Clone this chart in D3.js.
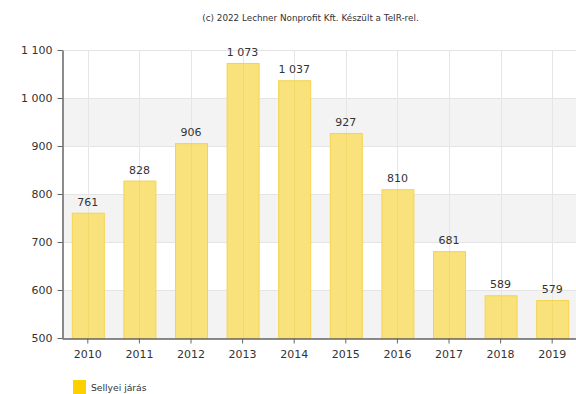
<!DOCTYPE html>
<html>
<head>
<meta charset="utf-8">
<script src="https://cdn.jsdelivr.net/npm/d3@7"></script>
<style>
  html, body { margin: 0; padding: 0; background: #fff; }
  svg { display: block; font-family: "DejaVu Sans", Verdana, sans-serif; }
</style>
</head>
<body>
<svg id="chart" width="576" height="394"></svg>
<script>
// Sellyei járás, yearly values
const years = ["2010", "2011", "2012", "2013", "2014", "2015", "2016", "2017", "2018", "2019"];
const values = [761, 828, 906, 1073, 1037, 927, 810, 681, 589, 579];
const yTicks = [500, 600, 700, 800, 900, 1000, 1100];
const seriesName = "Sellyei járás";
const credit = "(c) 2022 Lechner Nonprofit Kft. Készült a TeIR-rel.";

const svg = d3.select("#chart");
const plotLeft = 62, plotRight = 578, plotTop = 50, plotBottom = 338;

const x = d3.scaleBand().domain(years).range([plotLeft, plotRight]).paddingInner(0.38).paddingOuter(0.19);
const y = d3.scaleLinear().domain([500, 1100]).range([plotBottom, plotTop]);

const fmt = v => d3.format(",")(v).replace(/,/g, " ");

// alternating background stripes
const stripes = yTicks.slice(0, -1).filter((d, i) => i % 2 === 0);
svg.append("g").selectAll("rect").data(stripes).join("rect")
  .attr("x", plotLeft).attr("width", plotRight - plotLeft)
  .attr("y", d => y(d + 100)).attr("height", d => y(d) - y(d + 100))
  .attr("fill", "#f3f3f3");

// horizontal grid
svg.append("g").selectAll("line").data(yTicks).join("line")
  .attr("x1", plotLeft).attr("x2", plotRight)
  .attr("y1", d => y(d) + 0.5).attr("y2", d => y(d) + 0.5)
  .attr("stroke", "#e4e4e4");

// vertical grid through category centres
const cx = d => Math.round(x(d) + x.bandwidth() / 2) + 0.5;
svg.append("g").selectAll("line").data(years).join("line")
  .attr("x1", cx).attr("x2", cx)
  .attr("y1", plotTop).attr("y2", plotBottom)
  .attr("stroke", "#e6e6e6");

// bars
svg.append("g").selectAll("rect").data(values).join("rect")
  .attr("x", (d, i) => x(years[i]) + 0.5)
  .attr("width", x.bandwidth())
  .attr("y", d => y(d) + 0.5)
  .attr("height", d => y(500) - y(d))
  .attr("fill", "#f9e17c")
  .attr("stroke", "#f4d44e")
  .attr("stroke-width", 1);

// grid line faintly visible through each bar
svg.append("g").selectAll("line").data(values).join("line")
  .attr("x1", (d, i) => cx(years[i])).attr("x2", (d, i) => cx(years[i]))
  .attr("y1", d => y(d) + 1).attr("y2", plotBottom)
  .attr("stroke", "#e8c84a").attr("stroke-opacity", 0.35);

// value labels
svg.append("g").selectAll("text").data(values).join("text")
  .attr("x", (d, i) => x(years[i]) + x.bandwidth() / 2)
  .attr("y", d => y(d) - 7)
  .attr("text-anchor", "middle")
  .attr("font-size", 11)
  .attr("fill", "#333")
  .text(d => fmt(d));

// y axis
const yAxis = svg.append("g").attr("transform", `translate(${plotLeft + 0.5},0)`)
  .call(d3.axisLeft(y).tickValues(yTicks).tickSize(5).tickSizeOuter(0).tickFormat(fmt));
yAxis.select(".domain").attr("stroke", "#666").attr("stroke-width", 1.5);
yAxis.selectAll(".tick line").attr("stroke", "#666");
yAxis.selectAll(".tick text").attr("font-size", 11).attr("fill", "#333")
  .attr("font-family", "DejaVu Sans, Verdana, sans-serif").attr("dx", "-2");

// x axis
const xAxis = svg.append("g").attr("transform", `translate(0,${plotBottom + 0.5})`)
  .call(d3.axisBottom(x).tickSize(5).tickSizeOuter(0));
xAxis.select(".domain").attr("stroke", "#666").attr("stroke-width", 1.5);
xAxis.selectAll(".tick line").attr("stroke", "#666");
xAxis.selectAll(".tick text").attr("font-size", 11).attr("fill", "#333")
  .attr("font-family", "DejaVu Sans, Verdana, sans-serif").attr("dy", "1.05em");

// credit line
svg.append("text")
  .attr("x", 310.5).attr("y", 21)
  .attr("text-anchor", "middle")
  .attr("font-size", 8.8)
  .attr("fill", "#333")
  .text(credit);

// legend
svg.append("rect").attr("x", 73).attr("y", 380).attr("width", 13).attr("height", 14).attr("fill", "#fdd000");
svg.append("text").attr("x", 91).attr("y", 391).attr("font-size", 9.2).attr("fill", "#333").text(seriesName);
</script>
</body>
</html>
